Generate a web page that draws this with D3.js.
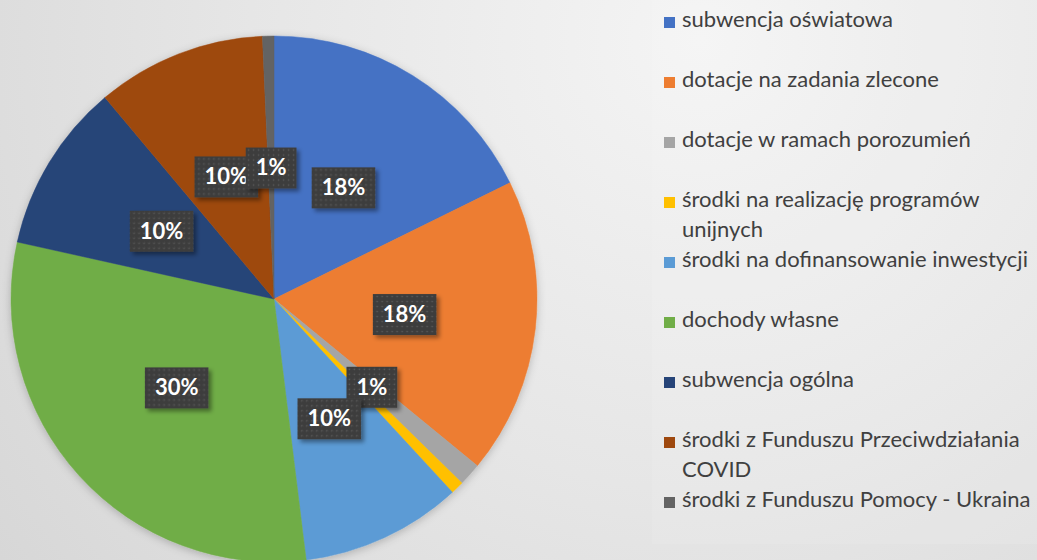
<!DOCTYPE html>
<html>
<head>
<meta charset="utf-8">
<script src="https://cdn.jsdelivr.net/npm/d3@7"></script>
<style>
    body { margin: 0; overflow: hidden; }
    svg { display: block; }
</style>
</head>
<body>
<svg></svg>
<script>
const width = 1037
const height = 560

// data (share of total, %)
const categories = [
    'subwencja oświatowa',
    'dotacje na zadania zlecone',
    'dotacje w ramach porozumień',
    'środki na realizację programów unijnych',
    'środki na dofinansowanie inwestycji',
    'dochody własne',
    'subwencja ogólna',
    'środki z Funduszu Przeciwdziałania COVID',
    'środki z Funduszu Pomocy - Ukraina'
]
const values = [17.7, 18.2, 1.4, 0.8, 9.9, 30.4, 10.4, 10.4, 0.7]
const colors = ['#4472C4', '#ED7D31', '#A5A5A5', '#FFC000', '#5B9BD5',
    '#70AD47', '#264478', '#9E480E', '#636363']
// legend lines as they wrap in the picture
const legendLines = [
    ['subwencja oświatowa'],
    ['dotacje na zadania zlecone'],
    ['dotacje w ramach porozumień'],
    ['środki na realizację programów', 'unijnych'],
    ['środki na dofinansowanie inwestycji'],
    ['dochody własne'],
    ['subwencja ogólna'],
    ['środki z Funduszu Przeciwdziałania', 'COVID'],
    ['środki z Funduszu Pomocy - Ukraina']
]
// label hidden in the picture (overlaps its neighbour)
const hiddenLabels = ['środki na realizację programów unijnych']

const data = categories.map((c, i) => ({ name: c, value: values[i], color: colors[i], lines: legendLines[i] }))

const cx = 274
const cy = 299
const radius = 263

const svg = d3.select('svg')
    .attr('width', width)
    .attr('height', height)

const defs = svg.append('defs')

const bg = defs.append('radialGradient')
    .attr('id', 'bg')
    .attr('gradientUnits', 'userSpaceOnUse')
    .attr('cx', 700).attr('cy', 40).attr('r', 900)
bg.append('stop').attr('offset', 0).attr('stop-color', '#f4f4f4')
bg.append('stop').attr('offset', 0.5).attr('stop-color', '#e6e6e6')
bg.append('stop').attr('offset', 1).attr('stop-color', '#d6d6d6')

const pieShadow = defs.append('filter').attr('id', 'pieShadow')
    .attr('x', '-20%').attr('y', '-20%').attr('width', '140%').attr('height', '140%')
pieShadow.append('feDropShadow')
    .attr('dx', 0).attr('dy', 2).attr('stdDeviation', 4)
    .attr('flood-color', '#000').attr('flood-opacity', 0.22)

const boxShadow = defs.append('filter').attr('id', 'boxShadow')
    .attr('x', '-30%').attr('y', '-30%').attr('width', '160%').attr('height', '160%')
boxShadow.append('feDropShadow')
    .attr('dx', 3).attr('dy', 3).attr('stdDeviation', 2)
    .attr('flood-color', '#000').attr('flood-opacity', 0.4)

const dots = defs.append('pattern')
    .attr('id', 'dots')
    .attr('patternUnits', 'userSpaceOnUse')
    .attr('width', 5).attr('height', 5)
dots.append('rect').attr('width', 5).attr('height', 5).attr('fill', '#3e3e3e')
dots.append('circle').attr('cx', 2.5).attr('cy', 2.5).attr('r', 0.8).attr('fill', '#5c5c5c')

svg.append('rect')
    .attr('width', width)
    .attr('height', height)
    .attr('fill', 'url(#bg)')

// legend panel
svg.append('rect')
    .attr('x', 652)
    .attr('y', 0)
    .attr('width', width - 652)
    .attr('height', 544)
    .attr('fill', '#ffffff')
    .attr('fill-opacity', 0.1)

const pie = d3.pie()
    .sort(null)
    .value(d => d.value)

const arc = d3.arc()
    .innerRadius(0)
    .outerRadius(radius)

const labelArc = d3.arc()
    .innerRadius(radius * 0.5)
    .outerRadius(radius * 0.5)

const arcs = pie(data)

const chart = svg.append('g')
    .attr('transform', `translate(${cx},${cy})`)

chart.append('g')
    .attr('filter', 'url(#pieShadow)')
    .selectAll('path')
    .data(arcs)
    .enter()
    .append('path')
    .attr('d', arc)
    .attr('fill', d => d.data.color)
    .attr('stroke', d => d.data.color)
    .attr('stroke-width', 0.5)

const total = d3.sum(values)
const fmt = v => Math.round(v / total * 100) + '%'

const labels = chart.append('g')
    .selectAll('g')
    .data(arcs.filter(d => !hiddenLabels.includes(d.data.name)))
    .enter()
    .append('g')
    .attr('transform', d => `translate(${labelArc.centroid(d)})`)

const boxes = labels.append('rect')
    .attr('fill', 'url(#dots)')
    .attr('filter', 'url(#boxShadow)')

const texts = labels.append('text')
    .attr('text-anchor', 'middle')
    .attr('dy', '0.36em')
    .attr('fill', '#ffffff')
    .style('font-family', 'Lato, "Open Sans", sans-serif')
    .style('font-weight', 'bold')
    .style('font-size', '22px')
    .text(d => fmt(d.data.value))

texts.each(function() {
    const w = this.getComputedTextLength()
    d3.select(this.parentNode).select('rect')
        .attr('x', -w / 2 - 10)
        .attr('y', -20)
        .attr('width', w + 20)
        .attr('height', 41)
})

// legend
const legend = svg.append('g')
    .attr('transform', 'translate(664,27)')

const items = legend.selectAll('g')
    .data(data)
    .enter()
    .append('g')
    .attr('transform', (d, i) => `translate(0,${i * 60})`)

items.append('rect')
    .attr('x', 0)
    .attr('y', -10)
    .attr('width', 11)
    .attr('height', 11)
    .attr('fill', d => d.color)

items.append('text')
    .attr('fill', '#404040')
    .style('font-family', 'Lato, "Open Sans", sans-serif')
    .style('font-size', '22px')
    .selectAll('tspan')
    .data(d => d.lines)
    .enter()
    .append('tspan')
    .attr('x', 18)
    .attr('y', (d, i) => i * 30)
    .text(d => d)
</script>
</body>
</html>
